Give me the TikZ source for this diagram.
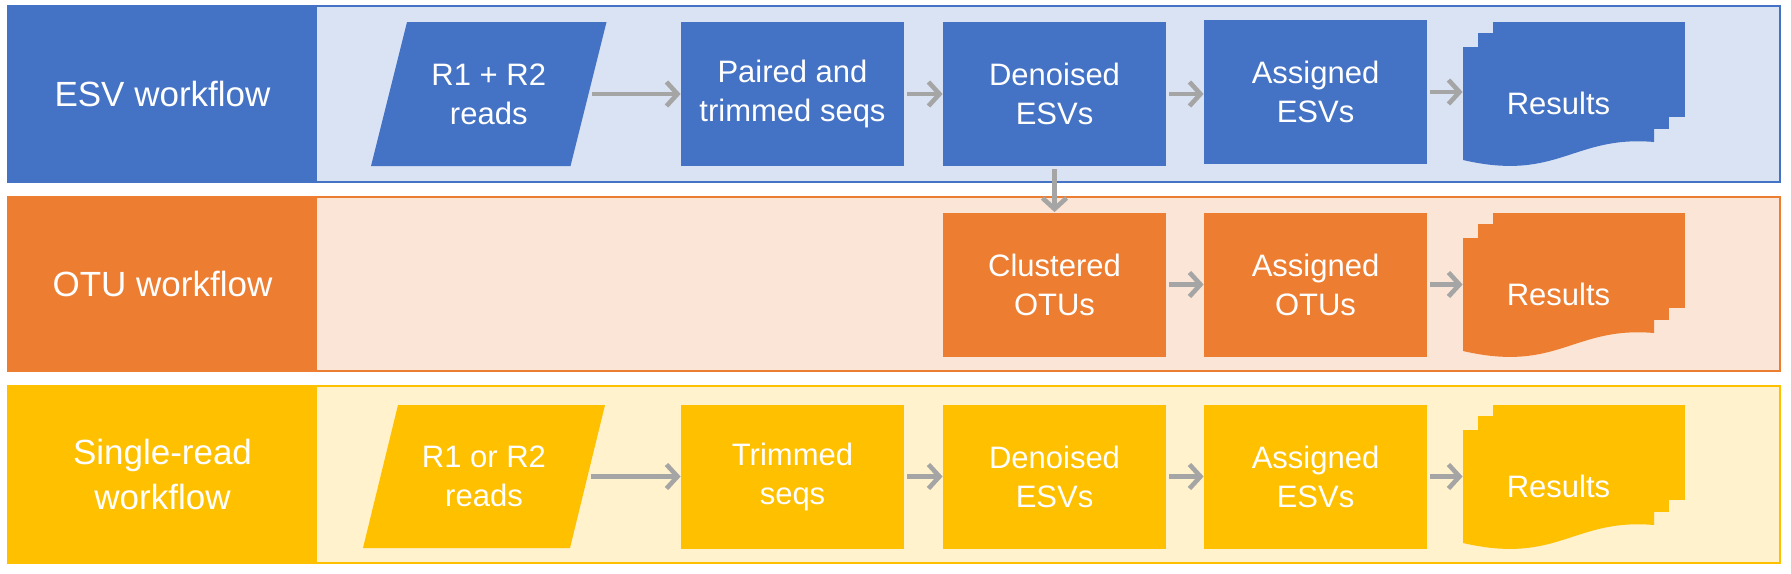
\documentclass[tikz,border=0pt]{standalone}
\usepackage{fontspec}
\setmainfont{Liberation Sans}
\usetikzlibrary{arrows.meta}
\definecolor{cblue}{HTML}{4472C4}
\definecolor{lblue}{HTML}{DAE3F3}
\definecolor{corange}{HTML}{ED7D31}
\definecolor{lorange}{HTML}{FBE5D6}
\definecolor{cgold}{HTML}{FFC000}
\definecolor{lgold}{HTML}{FFF2CC}
\definecolor{carrow}{HTML}{A5A5A5}
\newcommand\mdoc[3]{%
\begin{scope}[shift={(#2,#3)}]
 \fill[#1] (-65.5,-81.5) rectangle (126.5,13.5);
 \fill[#1] (-80.5,-70.5) rectangle (110.5,25.5);
 \fill[#1] (-95.5,-56.5) -- (95.5,-56.5) -- (95.5,38.5) .. controls (14.5,31.5) and (-0.5,78.5) .. (-95.5,56.5) -- cycle;
\end{scope}}
\newcommand\pgram[6]{% color, cx, cy, halfwidth(mid), halfslant, halfheight
 \fill[#1] (#2-#4+#5,#3-#6) -- (#2+#4+#5,#3-#6) -- (#2+#4-#5,#3+#6) -- (#2-#4-#5,#3+#6) -- cycle;}
\begin{document}
\begin{tikzpicture}[x=0.5pt,y=-0.5pt,
  box/.style={fill=#1, text=white, minimum width=111.5pt, minimum height=72pt, inner sep=0pt, align=center, font=\fontsize{15.5}{19.5}\selectfont},
  txt/.style={text=white, inner sep=0pt, align=center, font=\fontsize{15.5}{19.5}\selectfont},
  lbl/.style={text=white, inner sep=0pt, align=center, font=\fontsize{17.5}{22.5}\selectfont},
  arr/.style={draw=carrow, line width=2.3pt, shorten <=1.5pt, -{Straight Barb[length=5.5pt,width=12pt]}},
]
\useasboundingbox (0,0) rectangle (1791,573);
% bands
\filldraw[fill=lblue, draw=cblue, line width=1pt] (8,6) rectangle (1780,182);
\fill[cblue] (7.5,5.5) rectangle (317,182.5);
\filldraw[fill=lorange, draw=corange, line width=1pt] (8,197) rectangle (1780,371);
\fill[corange] (7.5,196.5) rectangle (317,371.5);
\filldraw[fill=lgold, draw=cgold, line width=1pt] (8,386) rectangle (1780,563);
\fill[cgold] (7.5,385.5) rectangle (317,563.5);
% labels
\node[lbl] (l1) at (162.5,94) {ESV workflow};
\node[lbl] (l2) at (162.5,284) {OTU workflow};
\node[lbl] (l3) at (162.5,474.5) {Single-read\\workflow};
% row 1
\pgram{cblue}{488.75}{94}{99.75}{18}{72}
\node[txt, minimum width=99.75pt, minimum height=72pt] (p1) at (488.75,94) {R1 + R2\\reads};
\node[box=cblue] (b1) at (792.5,94) {Paired and\\trimmed seqs};
\node[box=cblue] (b2) at (1054.5,94) {Denoised\\ESVs};
\node[box=cblue] (b3) at (1315.5,92) {Assigned\\ESVs};
\mdoc{cblue}{1558.5}{103.5}
\node[txt, minimum width=95.5pt, minimum height=56.5pt] (r1) at (1558.5,103.5) {Results};
% row 2
\node[box=corange] (c1) at (1054.5,284.5) {Clustered\\OTUs};
\node[box=corange] (c2) at (1315.5,284.5) {Assigned\\OTUs};
\mdoc{corange}{1558.5}{294.5}
\node[txt, minimum width=95.5pt, minimum height=56.5pt] (r2) at (1558.5,294.5) {Results};
% row 3
\pgram{cgold}{484}{476.5}{103.5}{17.5}{71.5}
\node[txt, minimum width=103.5pt, minimum height=71.5pt] (p3) at (484,476.5) {R1 or R2\\reads};
\node[box=cgold] (t1) at (792.5,476.5) {Trimmed\\seqs};
\node[box=cgold] (t2) at (1054.5,476.5) {Denoised\\ESVs};
\node[box=cgold] (t3) at (1315.5,476.5) {Assigned\\ESVs};
\mdoc{cgold}{1558.5}{486.5}
\node[txt, minimum width=95.5pt, minimum height=56.5pt] (r3) at (1558.5,486.5) {Results};
% arrows
\draw[arr] (p1.east) -- (b1.west);
\draw[arr] (b1.east) -- (b2.west);
\draw[arr] (b2.east) -- (b2.east -| b3.west);
\draw[arr] (b3.east) -- (b3.east -| r1.west);
\draw[arr] (b2.south) -- (c1.north);
\draw[arr] (c1.east) -- (c2.west);
\draw[arr] (c2.east) -- (c2.east -| r2.west);
\draw[arr] (p3.east) -- (t1.west);
\draw[arr] (t1.east) -- (t2.west);
\draw[arr] (t2.east) -- (t3.west);
\draw[arr] (t3.east) -- (t3.east -| r3.west);
\end{tikzpicture}
\end{document}
